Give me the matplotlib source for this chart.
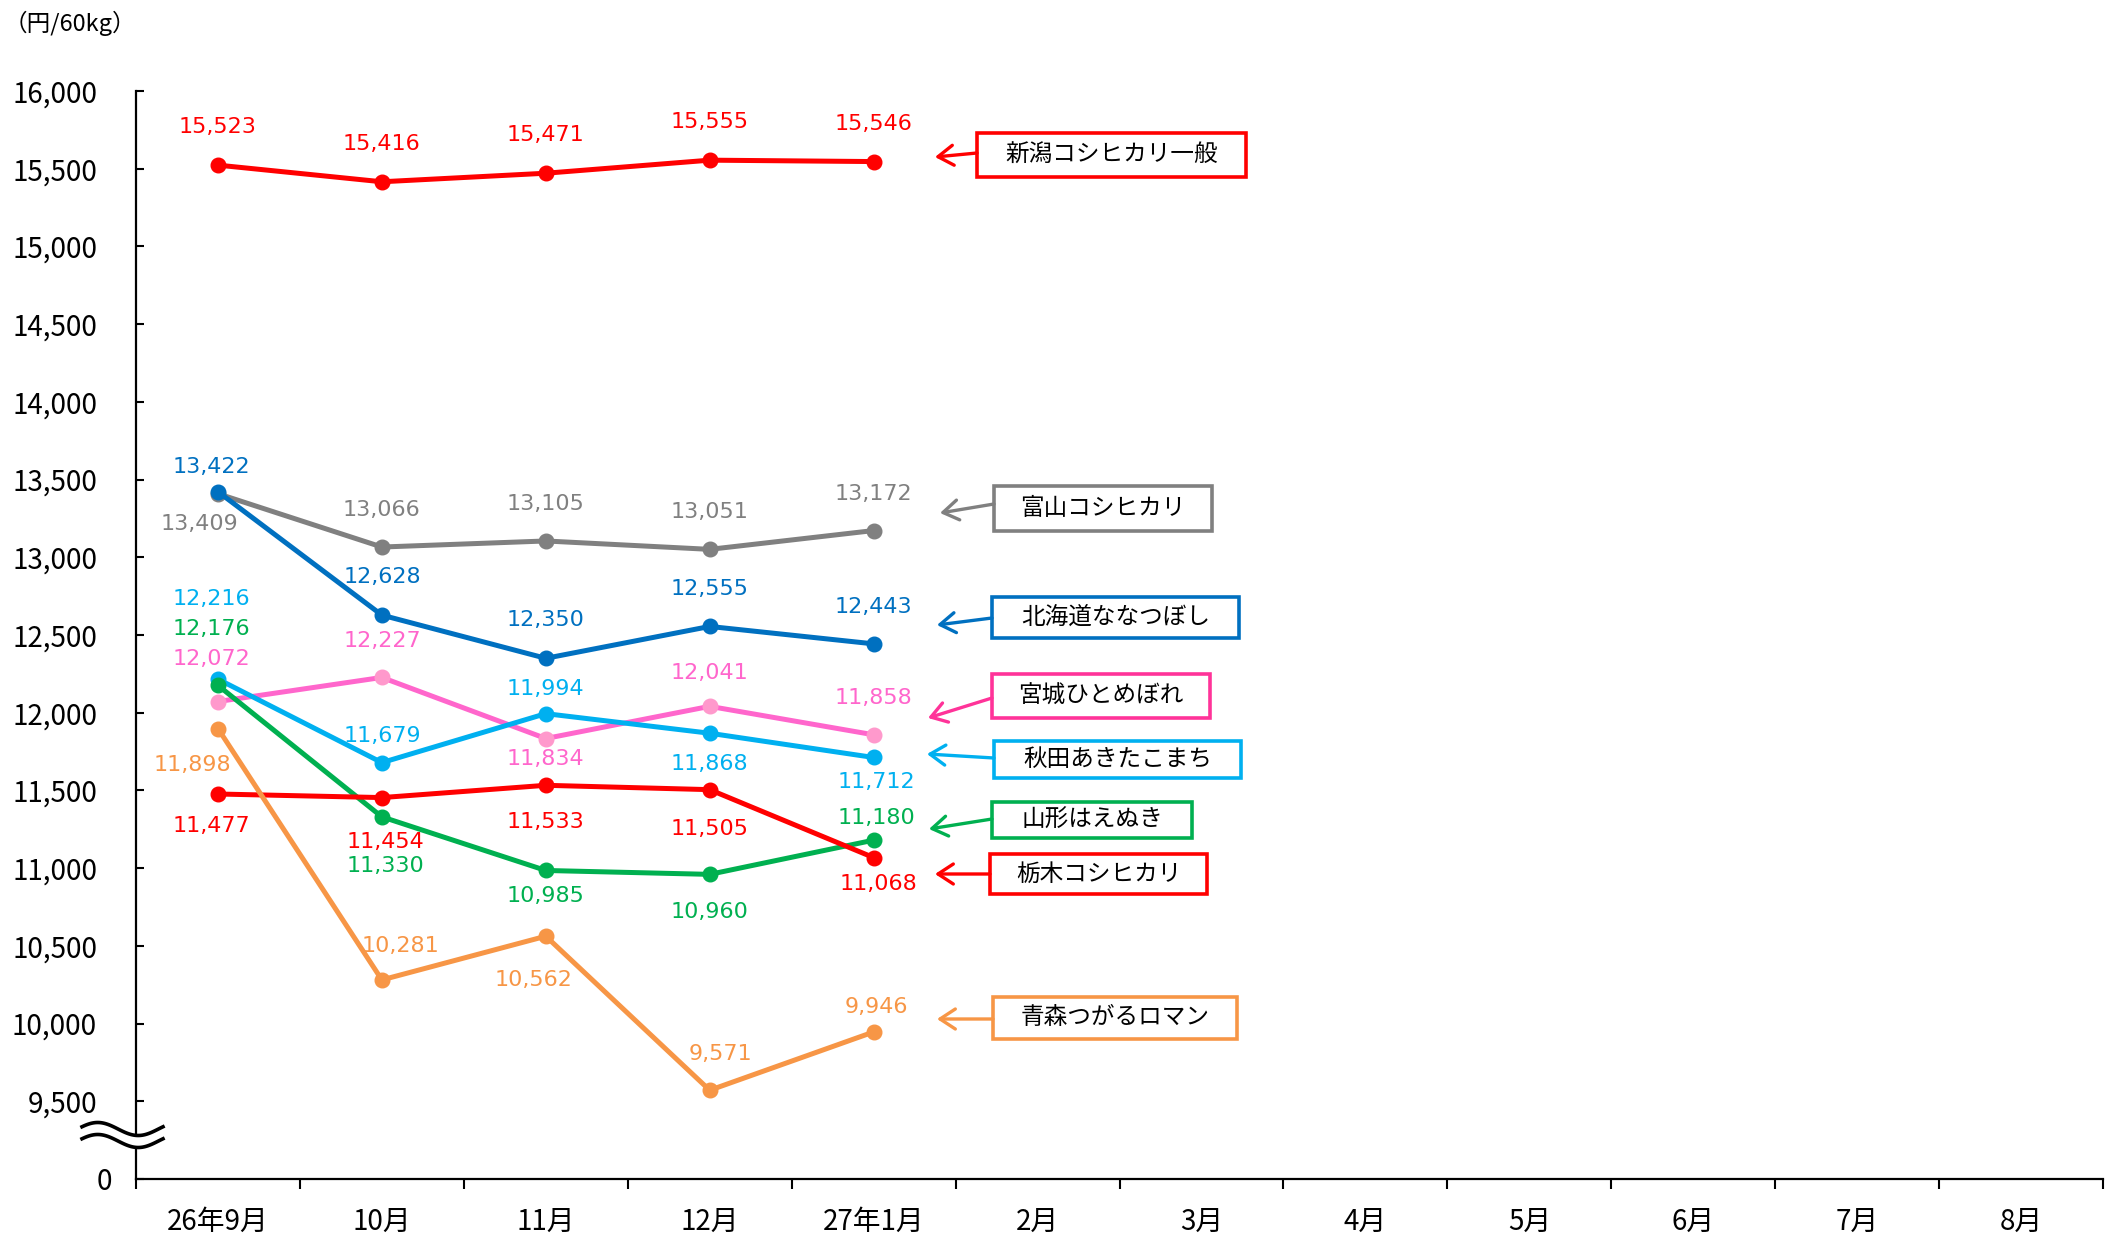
import matplotlib
matplotlib.use("Agg")
import matplotlib.pyplot as plt
import matplotlib.transforms as mtransforms
from matplotlib.patches import Rectangle
import numpy as np

plt.rcParams["font.family"] = ["Noto Sans CJK JP", "DejaVu Sans"]

W, H = 2118, 1234

months = ["26年9月", "10月", "11月", "12月", "27年1月", "2月",
          "3月", "4月", "5月", "6月", "7月", "8月"]

niigata = [15523, 15416, 15471, 15555, 15546]
toyama = [13409, 13066, 13105, 13051, 13172]
hokkaido = [13422, 12628, 12350, 12555, 12443]
miyagi = [12072, 12227, 11834, 12041, 11858]
akita = [12216, 11679, 11994, 11868, 11712]
yamagata = [12176, 11330, 10985, 10960, 11180]
tochigi = [11477, 11454, 11533, 11505, 11068]
aomori = [11898, 10281, 10562, 9571, 9946]

names = ["新潟コシヒカリ一般", "富山コシヒカリ", "北海道ななつぼし", "宮城ひとめぼれ",
         "秋田あきたこまち", "山形はえぬき", "栃木コシヒカリ", "青森つがるロマン"]

yticks = [9000 + 500 * i for i in range(15)]
ytick_labels = ["0"] + [f"{v:,}" for v in yticks[1:]]

# line colour, marker colour, label colour, box colour
STYLE = [
    ("#FF0000", "#FF0000", "#FF0000", "#FF0000"),
    ("#808080", "#808080", "#808080", "#808080"),
    ("#0070C0", "#0070C0", "#0070C0", "#0070C0"),
    ("#FF66CC", "#FF99CC", "#FF66CC", "#FF3399"),
    ("#00B0F0", "#00B0F0", "#00B0F0", "#00B0F0"),
    ("#00B050", "#00B050", "#00B050", "#00B050"),
    ("#FF0000", "#FF0000", "#FF0000", "#FF0000"),
    ("#F79646", "#F79646", "#F79646", "#F79646"),
]

# value-label offsets in pixels (dx, dy)
OFFSETS = [
    [(0, 38), (0, 38), (0, 38), (0, 38), (0, 38)],
    [(-19, -30), (0, 37), (0, 37), (0, 37), (0, 37)],
    [(-7, 25), (0, 38), (0, 38), (0, 37), (0, 37)],
    [(-7, 43), (0, 36), (0, -20), (0, 33), (0, 37)],
    [(-7, 80), (0, 27), (0, 25), (0, -31), (3, -25)],
    [(-7, 56), (4, -49), (0, -26), (0, -38), (3, 22)],
    [(-7, -32), (4, -44), (0, -37), (0, -39), (5, -26)],
    [(-26, -36), (19, 34), (-12, -44), (11, 36), (3, 25)],
]

# name boxes (x0, y0, x1, y1) and arrow ends, in pixels from top-left
BOXES = [
    (977, 133, 1246, 177), (994, 486, 1212, 531), (992, 597, 1239, 638),
    (992, 674, 1210, 718), (994, 741, 1241, 778), (992, 802, 1192, 838),
    (990, 854, 1207, 894), (993, 997, 1237, 1039),
]
TIPS = [(935, 157), (940, 513), (937, 625), (928, 718),
        (927, 754), (929, 829), (935, 874), (937, 1019)]
STARTS = [(977, 153), (994, 504), (992, 618), (992, 698),
          (994, 758), (992, 819), (990, 874), (993, 1019)]


def fpx(x, y):
    return x / W, 1 - y / H


fig = plt.figure(figsize=(W / 100, H / 100), dpi=100)
fig.patch.set_facecolor("white")
ax = fig.add_axes([136 / W, 1 - 1179 / H, (2103 - 136) / W, (1179 - 91) / H])

series = [niigata, toyama, hokkaido, miyagi, akita, yamagata, tochigi, aomori]
order = [0, 2, 1, 3, 4, 5, 6, 7]
xs = np.arange(len(niigata)) + 0.5

for k in order:
    vals = series[k]
    lc, mc, tc, _ = STYLE[k]
    ax.plot(xs, vals, color=lc, lw=3.6, zorder=3 + k * 0.1)
    ax.plot(xs, vals, ls="none", marker="o", ms=10.5, mfc=mc, mec=mc,
            zorder=3.05 + k * 0.1)
    for x, v, (dx, dy) in zip(xs, vals, OFFSETS[k]):
        ax.annotate(f"{v:,}", (x, v), xytext=(dx, dy),
                    textcoords="offset pixels", ha="center", va="center",
                    fontsize=16, color=tc,
                    family=["Liberation Sans Narrow", "DejaVu Sans"])

ax.set_xlim(0, 12)
ax.set_ylim(9000, 16000)

ax.set_xticks(range(13))
ax.set_xticklabels([])
ax.set_xticks(np.arange(12) + 0.5, minor=True)
ax.set_xticklabels(months, minor=True, fontsize=20)
ax.tick_params(axis="x", which="major", direction="out", length=7, width=1.5)
ax.tick_params(axis="x", which="minor", length=0, pad=20)

ax.set_yticks(yticks, ytick_labels, fontsize=20)
ax.tick_params(axis="y", direction="in", length=6, width=1.5, pad=28)
zero_lbl = ax.yaxis.get_major_ticks()[0].label1
zero_lbl.set_transform(zero_lbl.get_transform()
                       + mtransforms.ScaledTranslation(15 / 100, 0, fig.dpi_scale_trans))

for side in ("top", "right"):
    ax.spines[side].set_visible(False)
for side in ("left", "bottom"):
    ax.spines[side].set_linewidth(1.6)
    ax.spines[side].set_color("black")

# axis break marks between 0 and 9,500
wx = np.linspace(82, 163, 120)
phase = (wx - 82) / (163 - 82) * 2 * np.pi
wave = -6.5 * np.sin(phase + 0.35)
upper = 1129 + wave
lower = 1141 + wave
fig.patches.append(matplotlib.patches.Polygon(
    [fpx(x, y) for x, y in zip(np.r_[wx, wx[::-1]], np.r_[upper, lower[::-1]])],
    closed=True, facecolor="white", edgecolor="none",
    transform=fig.transFigure, zorder=5))
for yy in (upper, lower):
    pts = np.array([fpx(x, y) for x, y in zip(wx, yy)])
    fig.add_artist(plt.Line2D(pts[:, 0], pts[:, 1], color="black", lw=2.6,
                              transform=fig.transFigure, zorder=6))

# name boxes with arrows
for name, (x0, y0, x1, y1), tip, start, st in zip(names, BOXES, TIPS, STARTS, STYLE):
    bc = st[3]
    bx, by = fpx(x0, y1)
    fig.add_artist(Rectangle((bx, by), (x1 - x0) / W, (y1 - y0) / H,
                             transform=fig.transFigure, facecolor="white",
                             edgecolor=bc, lw=2.6, zorder=4))
    cx, cy = fpx((x0 + x1) / 2, (y0 + y1) / 2)
    fig.text(cx, cy, name, ha="center", va="center", fontsize=17,
             color="black", zorder=5)
    fig.add_artist(matplotlib.patches.FancyArrowPatch(
        fpx(*start), fpx(*tip), transform=fig.transFigure,
        arrowstyle="->,head_length=0.55,head_width=0.36", mutation_scale=20,
        color=bc, lw=2.4, shrinkA=0, shrinkB=0, zorder=4))

fig.text(*fpx(4, 23), "（円/60kg）", ha="left", va="center", fontsize=17)

fig.savefig("out.png", dpi=100)
